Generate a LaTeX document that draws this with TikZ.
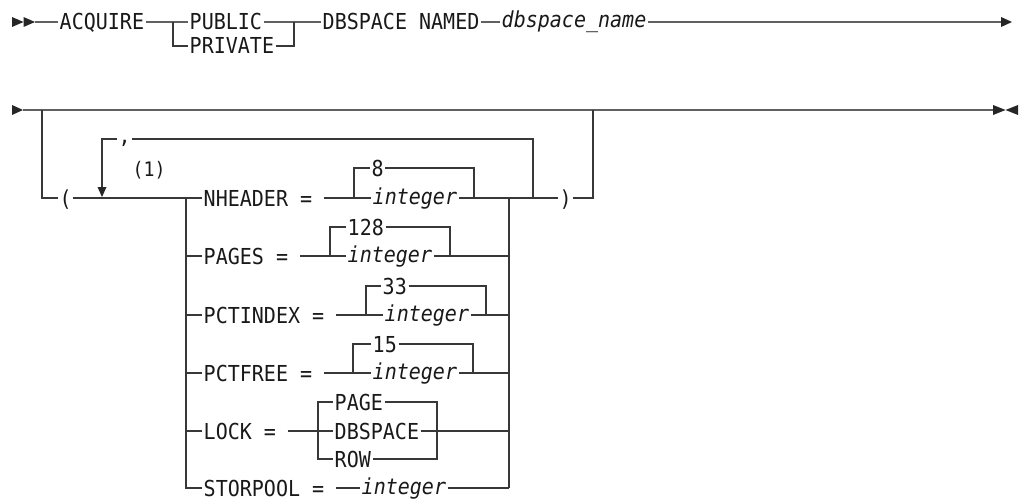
\documentclass[tikz,border=0pt]{standalone}
\usepackage{fontspec}
\newfontfamily\rrfont[FakeStretch=0.91]{DejaVu Sans Mono}
\newcommand\eqgap{\hspace*{10pt}}
\begin{document}
\begin{tikzpicture}[x=1pt,y=-1pt,
  line/.style={draw=black!78,line width=1.3pt},
  mainline/.style={draw=black!62,line width=1.6pt},
  kw/.style={anchor=west,inner xsep=1.5pt,inner ysep=0pt,text height=16pt,text depth=0pt,
    font=\rrfont\fontsize{22}{26}\selectfont,text=black!90},
  var/.style={kw,text height=12pt,font=\rrfont\itshape\fontsize{22}{26}\selectfont},
  commastyle/.style={kw,text height=10pt},
  fnote/.style={kw,font=\rrfont\fontsize{20}{24}\selectfont},
  tip/.style={fill=black!85}]
\useasboundingbox (0,0) rectangle (1028,500);

% ---------- row 1 ----------
\node[kw]  (acq)  at (58,22)  {ACQUIRE};
\node[kw]  (pub)  at (188,22) {PUBLIC};
\node[kw]  (priv) at (188,46) {PRIVATE};
\node[kw]  (dbs)  at (321,22) {DBSPACE NAMED};
\node[var] (dbn)  at (500,22) {dbspace\_name};
\coordinate (s1) at (35,22);
\coordinate (e1) at (1002,22);
\coordinate (j1) at (173,22);
\coordinate (j2) at (294,22);
\fill[tip] (12,17) -- (23.5,22) -- (12,27) -- cycle;
\fill[tip] (23.5,17) -- (35,22) -- (23.5,27) -- cycle;
\draw[mainline] (s1) -- (acq.west);
\draw[mainline] (acq.east) -- (pub.west);
\draw[line] (j1) |- (priv.west);
\draw[mainline] (pub.east) -- (j2) -- (dbs.west);
\draw[line] (priv.east) -| (j2);
\draw[mainline] (dbs.east) -- (dbn.west);
\draw[mainline] (dbn.east) -- (e1);
\fill[tip] (1001,17) -- (1012,22) -- (1001,27) -- cycle;

% ---------- row 2 ----------
\coordinate (s2) at (23,110);
\coordinate (e2) at (993,110);
\coordinate (b1) at (42,110);
\coordinate (b2) at (593,110);
\fill[tip] (12,105) -- (23,110) -- (12,115) -- cycle;
\draw[mainline] (s2) -- (e2);
\fill[tip] (993,105) -- (1005.5,110) -- (993,115) -- cycle;
\fill[tip] (1018,105) -- (1005.5,110) -- (1018,115) -- cycle;

\node[kw] (lp) at (58,198) {(};
\node[kw] (rp) at (558,198) {)};
\draw[line] (b1) |- (lp.west);
\draw[line] (rp.east) -| (b2);

% repeat loop
\node[commastyle] (comma) at (117,139) {,};
\node[fnote] (fn) at (131,168) {(1)};
\coordinate (lt) at (102,139);
\coordinate (la) at (102,189);
\coordinate (lr) at (533,198);
\coordinate (ltop) at (533,139);
\draw[line] (lr) -- (ltop) -- (comma.east);
\draw[line] (comma.west) -- (lt) -- (la);
\fill[tip] (97.5,187) -- (106.5,187) -- (102,197) -- cycle;

% stack junctions
\coordinate (ls1) at (186,198);
\coordinate (ls2) at (186,256);
\coordinate (ls3) at (186,315);
\coordinate (ls4) at (186,373);
\coordinate (ls5) at (186,431);
\coordinate (ls6) at (186,488);
\coordinate (rs1) at (509,198);
\coordinate (rs2) at (509,256);
\coordinate (rs3) at (509,315);
\coordinate (rs4) at (509,373);
\coordinate (rs5) at (509,431);
\coordinate (rs6) at (509,488);

% NHEADER
\node[kw]  (nh)   at (202,198) {NHEADER =\eqgap};
\node[kw]  (n8)   at (370,168) {8};
\node[var] (nint) at (371,198) {integer};
\coordinate (nb1) at (354,198);
\coordinate (nb2) at (474,198);
\draw[line] (lp.east) -- (ls1) -- (nh.west);
\draw[line] (nh.east) -- (nint.west);
\draw[line] (nb1) |- (n8.west);
\draw[line] (n8.east) -| (nb2);
\draw[line] (nint.east) -- (rs1) -- (lr) -- (rp.west);

% PAGES
\node[kw]  (pg)   at (202,256) {PAGES =\eqgap};
\node[kw]  (p128) at (346,227) {128};
\node[var] (pint) at (346,256) {integer};
\coordinate (pb1) at (330,256);
\coordinate (pb2) at (450,256);
\draw[line] (ls2) -- (pg.west);
\draw[line] (pg.east) -- (pint.west);
\draw[line] (pb1) |- (p128.west);
\draw[line] (p128.east) -| (pb2);
\draw[line] (pint.east) -- (rs2);

% PCTINDEX
\node[kw]  (pi)   at (202,315) {PCTINDEX =\eqgap};
\node[kw]  (p33)  at (381,286) {33};
\node[var] (iint) at (383,315) {integer};
\coordinate (ib1) at (366,315);
\coordinate (ib2) at (486,315);
\draw[line] (ls3) -- (pi.west);
\draw[line] (pi.east) -- (iint.west);
\draw[line] (ib1) |- (p33.west);
\draw[line] (p33.east) -| (ib2);
\draw[line] (iint.east) -- (rs3);

% PCTFREE
\node[kw]  (pf)   at (202,373) {PCTFREE =\eqgap};
\node[kw]  (p15)  at (371,344) {15};
\node[var] (fint) at (371,373) {integer};
\coordinate (fb1) at (353,373);
\coordinate (fb2) at (473,373);
\draw[line] (ls4) -- (pf.west);
\draw[line] (pf.east) -- (fint.west);
\draw[line] (fb1) |- (p15.west);
\draw[line] (p15.east) -| (fb2);
\draw[line] (fint.east) -- (rs4);

% LOCK
\node[kw] (lk)   at (202,431) {LOCK =\eqgap};
\node[kw] (lpg)  at (333,402) {PAGE};
\node[kw] (ldb)  at (333,431) {DBSPACE};
\node[kw] (lrow) at (333,459) {ROW};
\coordinate (kb1) at (318,431);
\coordinate (kb2) at (437,431);
\draw[line] (ls5) -- (lk.west);
\draw[line] (lk.east) -- (ldb.west);
\draw[line] (lpg.west) -| (kb1) |- (lrow.west);
\draw[line] (lpg.east) -| (kb2) |- (lrow.east);
\draw[line] (ldb.east) -- (rs5);

% STORPOOL
\node[kw]  (sp)   at (202,488) {STORPOOL =\eqgap};
\node[var] (sint) at (360,488) {integer};
\draw[line] (sp.east) -- (sint.west);
\draw[line] (sint.east) -- (rs6);

% stack verticals
\draw[line] (ls1) |- (sp.west);
\draw[line] (rs1) -- (rs6);
\end{tikzpicture}
\end{document}
